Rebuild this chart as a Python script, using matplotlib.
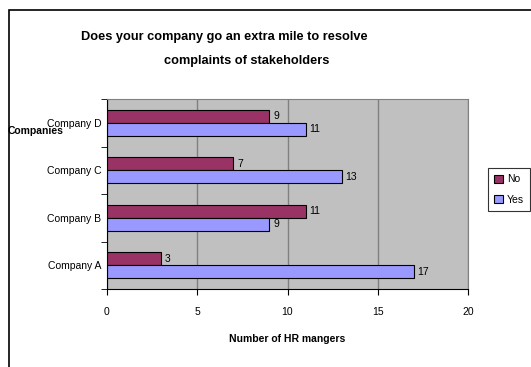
import numpy as np
import matplotlib.pyplot as plt
from matplotlib.patches import Rectangle

plt.rcParams['font.family'] = ['Liberation Sans Narrow', 'Liberation Sans', 'DejaVu Sans']

# data
companies = ['Company A', 'Company B', 'Company C', 'Company D']
no_vals = [3, 11, 7, 9]
yes_vals = [17, 9, 13, 11]

fig = plt.figure(figsize=(5.31, 3.67), dpi=100)
W, H = 531, 367

# outer chart border (runs off right and bottom edge)
fig.patches.append(Rectangle((9 / W, -0.05), 1.1, 1 - 10 / H + 0.05, transform=fig.transFigure,
                             fill=False, edgecolor='black', linewidth=1.2))

ax = fig.add_axes([107 / W, 1 - 289 / H, (468 - 107) / W, (289 - 99) / H])
ax.set_facecolor('#C0C0C0')

y = np.arange(len(companies))
bh = 0.27
b_no = ax.barh(y + bh / 2, no_vals, height=bh, color='#993366', edgecolor='black', linewidth=0.8, label='No')
b_yes = ax.barh(y - bh / 2, yes_vals, height=bh, color='#9999FF', edgecolor='black', linewidth=0.8, label='Yes')

for bars in (b_no, b_yes):
    for r in bars:
        ax.text(r.get_width() + 0.2, r.get_y() + r.get_height() / 2, str(int(r.get_width())),
                va='center', ha='left', fontsize=7.5)

ax.set_xlim(0, 20)
ax.set_ylim(-0.5, 3.5)
ax.set_xticks([0, 5, 10, 15, 20])
ax.tick_params(axis='x', length=4, pad=9, labelsize=7.5, direction='out')
ax.set_yticks(y)
ax.set_yticklabels(companies)
ax.tick_params(axis='y', length=0, pad=4, labelsize=7.5)
ax.set_yticks(np.arange(-0.5, 4, 1), minor=True)
ax.tick_params(axis='y', which='minor', length=4, direction='out')
ax.grid(axis='x', color='#808080', linewidth=1)
ax.set_axisbelow(True)
for s in ('top', 'right'):
    ax.spines[s].set_color('#808080')
for s in ('left', 'bottom'):
    ax.spines[s].set_color('black')

ax.set_xlabel('Number of HR mangers', fontsize=7.5, fontweight='bold', labelpad=12)
fig.text(36 / W, 1 - 131 / H, 'Companies', fontsize=7.5, fontweight='bold', ha='center', va='center')

fig.text(224 / W, 1 - 37 / H, 'Does your company go an extra mile to resolve', fontsize=9.2,
         fontweight='bold', ha='center', va='center')
fig.text(247 / W, 1 - 61 / H, 'complaints of stakeholders', fontsize=9.2,
         fontweight='bold', ha='center', va='center')

handles = [b_no, b_yes]
leg = fig.legend(handles, ['No', 'Yes'], loc='upper left', bbox_to_anchor=(488 / W, 1 - 168 / H),
                 fontsize=7.5, frameon=True, fancybox=False, edgecolor='black', handlelength=0.8,
                 handleheight=0.8, borderpad=0.6, labelspacing=1.0, handletextpad=0.4, borderaxespad=0)
leg.get_frame().set_linewidth(0.8)

fig.savefig('out.png', dpi=100)
